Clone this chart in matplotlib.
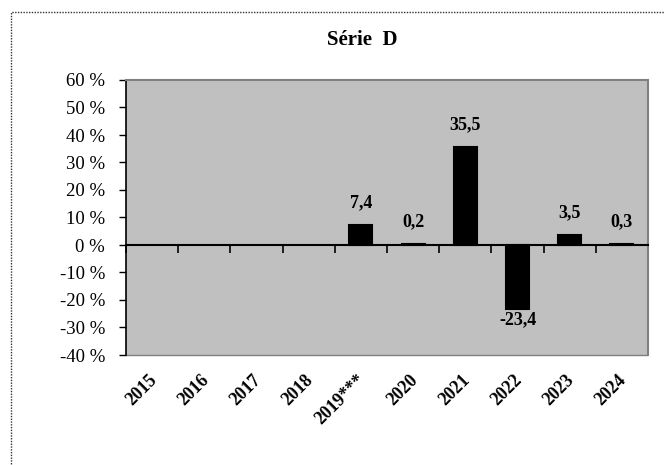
import numpy as np
import matplotlib
matplotlib.use("Agg")
import matplotlib.pyplot as plt
from matplotlib.patches import Rectangle
from matplotlib.transforms import ScaledTranslation

categories = ["2015", "2016", "2017", "2018", "2019***", "2020", "2021", "2022", "2023", "2024"]
values = [np.nan, np.nan, np.nan, np.nan, 7.4, 0.2, 35.5, -23.4, 3.5, 0.3]
value_labels = ["", "", "", "", "7,4", "0,2", "35,5", "-23,4", "3,5", "0,3"]
yticks = [-40, -30, -20, -10, 0, 10, 20, 30, 40, 50, 60]
ytick_labels = ["-40 %", "-30 %", "-20 %", "-10 %", "0 %", "10 %", "20 %", "30 %", "40 %", "50 %", "60 %"]
title = "Série  D"

plt.rcParams['font.family'] = ['Liberation Serif', 'DejaVu Serif']

fig = plt.figure(figsize=(6.65, 4.65), dpi=100)
fig.patch.set_facecolor("white")

# outer chart border (only top/left visible)
fig.patches.append(Rectangle((11/665, -0.5), 2.0, 1.5 - 12/465, transform=fig.transFigure,
                             fill=False, edgecolor="#333333", linestyle=(0, (1, 1)), lw=1.0))

ax = fig.add_axes([126/665, 1 - 355/465, (648-126)/665, (355-80)/465])
ax.set_facecolor("#c0c0c0")

x = np.arange(len(categories))
bars = ax.bar(x, values, width=0.44, color="black", edgecolor="black", linewidth=1.5, zorder=3)
pos_labels = [l if (not np.isnan(v) and v >= 0) else "" for l, v in zip(value_labels, values)]
neg_labels = [l if (not np.isnan(v) and v < 0) else "" for l, v in zip(value_labels, values)]
ax.bar_label(bars, labels=pos_labels, padding=10, fontsize=13, fontweight="bold", zorder=4)
ax.bar_label(bars, labels=neg_labels, padding=1, fontsize=13, fontweight="bold", zorder=4)

ax.set_xlim(-0.5, len(categories) - 0.5)
ax.set_ylim(-40, 60)
ax.set_yticks(yticks)
ax.set_yticklabels(ytick_labels, fontsize=13.5)
ax.tick_params(axis="y", direction="out", length=5, width=1, color="black", pad=10)

# main x axis at zero with ticks at category boundaries
ax.spines["bottom"].set_position(("data", 0))
ax.spines["bottom"].set_color("black")
ax.spines["bottom"].set_linewidth(1.5)
ax.spines["bottom"].set_zorder(5)
ax.set_xticks(np.arange(-0.5, len(categories) + 0.5, 1.0))
ax.set_xticklabels([])
ax.tick_params(axis="x", direction="out", length=6, width=1.2, color="black")

ax.spines["left"].set_color("black")
ax.spines["left"].set_linewidth(1.2)
ax.spines["top"].set_color("#808080")
ax.spines["top"].set_linewidth(1.5)
ax.spines["right"].set_color("#808080")
ax.spines["right"].set_linewidth(1.5)

# category labels at bottom of plot area
sec = ax.secondary_xaxis("bottom")
sec.set_xticks(x)
sec.set_xticklabels(categories, rotation=45, ha="right", rotation_mode="anchor",
                    fontsize=13, fontweight="bold")
sec.tick_params(axis="x", length=0, pad=12)
offset = ScaledTranslation(-4/100, 0, fig.dpi_scale_trans)
for lbl in sec.get_xticklabels():
    lbl.set_transform(lbl.get_transform() + offset)
sec.spines["bottom"].set_color("#808080")
sec.spines["bottom"].set_linestyle((0, (1, 1)))
sec.spines["bottom"].set_linewidth(1.0)

fig.text(362/665, 1 - 40/465, title, ha="center", va="center", fontsize=15, fontweight="bold")

fig.savefig("out.png", dpi=100, facecolor="white")
